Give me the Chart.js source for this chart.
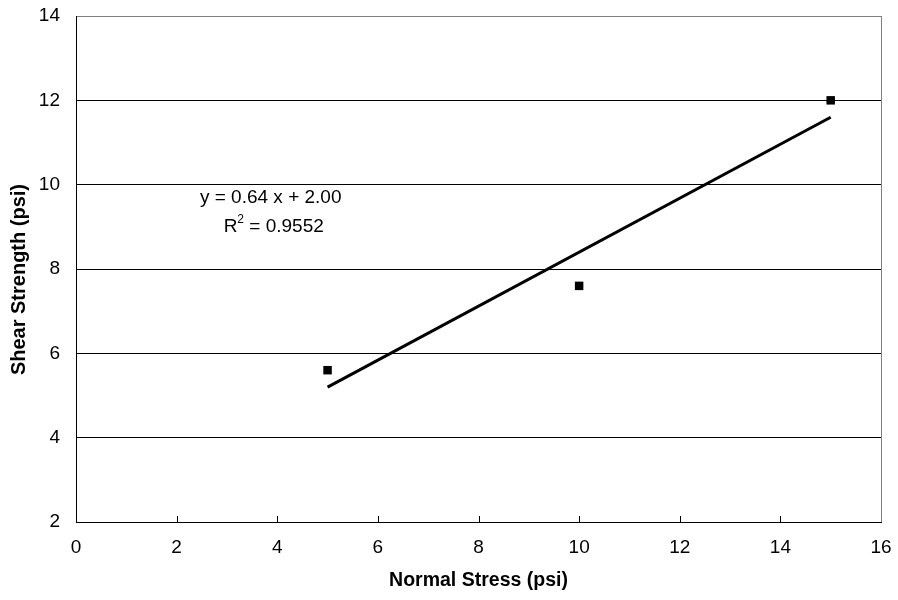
<html><head><meta charset="UTF-8"/>
<title>Shear Strength vs Normal Stress</title>
<script src="https://cdn.jsdelivr.net/npm/chart.js"></script>
<style>
* { margin: 0; padding: 0; }
body { background: #ffffff; width: 898px; height: 600px; overflow: hidden; }
#wrap { width: 898px; height: 600px; }
</style>
</head>
<body>
<div id="wrap"><canvas id="shearChart" width="898" height="600"></canvas></div>
<script>
// measured points
const normalStress = [5, 10, 15];
const shearStrength = [5.6, 7.6, 12];
// trendline y = 0.64 x + 2.00
const trendX = [5, 15];
const trendY = [5.2, 11.6];
const xTicks = [0, 2, 4, 6, 8, 10, 12, 14, 16];
const yTicks = [2, 4, 6, 8, 10, 12, 14];
const eqLine = 'y = 0.64 x + 2.00';
const r2Value = '0.9552';
const yTitle = 'Shear Strength (psi)';

const FONT = "'Liberation Sans', Arial, sans-serif";

// x tick marks drawn inward, y title, and the equation text
const extras = {
    id: 'extras',
    afterDraw(chart) {
        const c = chart.ctx;
        const xs = chart.scales.x, ys = chart.scales.y;
        c.save();
        c.strokeStyle = '#000';
        c.lineWidth = 1;
        xTicks.slice(1, -1).forEach(v => {
            const px = Math.round(xs.getPixelForValue(v)) + 0.5;
            c.beginPath();
            c.moveTo(px, ys.bottom);
            c.lineTo(px, ys.bottom - 6);
            c.stroke();
        });
        // y axis title (sits a bit below the middle in the original)
        c.save();
        c.translate(19, ys.getPixelForValue(7.75));
        c.rotate(-Math.PI / 2);
        c.fillStyle = '#000';
        c.font = 'bold 20px ' + FONT;
        c.textAlign = 'center';
        c.textBaseline = 'middle';
        c.fillText(yTitle, 0, 0);
        c.restore();
        // equation label
        c.fillStyle = '#000';
        c.font = '19px ' + FONT;
        c.textAlign = 'center';
        c.textBaseline = 'middle';
        c.fillText(eqLine, xs.getPixelForValue(3.87), ys.getPixelForValue(9.68));
        // R^2 with superscript
        const y2 = ys.getPixelForValue(9.0);
        const rest = ' = ' + r2Value;
        const wR = c.measureText('R').width;
        const wRest = c.measureText(rest).width;
        c.font = '12px ' + FONT;
        const wSup = c.measureText('2').width;
        let x0 = xs.getPixelForValue(3.93) - (wR + wSup + wRest) / 2;
        c.textAlign = 'left';
        c.font = '19px ' + FONT;
        c.fillText('R', x0, y2);
        c.font = '12px ' + FONT;
        c.fillText('2', x0 + wR, y2 - 7);
        c.font = '19px ' + FONT;
        c.fillText(rest, x0 + wR + wSup, y2);
        c.restore();
    }
};

new Chart(document.getElementById('shearChart'), {
    type: 'scatter',
    data: {
        datasets: [
            {
                label: 'Data',
                data: normalStress.map((x, i) => ({ x: x, y: shearStrength[i] })),
                pointStyle: 'rect',
                pointRadius: 6,
                backgroundColor: '#000',
                borderColor: '#000',
                borderWidth: 0
            },
            {
                label: 'Trend',
                type: 'line',
                data: trendX.map((x, i) => ({ x: x, y: trendY[i] })),
                borderColor: '#000',
                borderWidth: 3,
                pointRadius: 0,
                fill: false
            }
        ]
    },
    options: {
        responsive: false,
        animation: false,
        layout: { padding: { top: 16, right: 17, bottom: 0, left: 0 } },
        plugins: { legend: { display: false }, tooltip: { enabled: false } },
        scales: {
            x: {
                type: 'linear',
                min: 0, max: 16,
                afterBuildTicks: s => { s.ticks = xTicks.map(v => ({ value: v })); },
                afterFit: s => { s.height = 78; s.paddingLeft = 0; s.paddingRight = 0; },
                ticks: { color: '#000', font: { family: FONT, size: 19 }, padding: 14 },
                grid: {
                    drawTicks: false,
                    color: ctx => ctx.tick && ctx.tick.value === 16 ? '#808080' : 'rgba(0,0,0,0)'
                },
                border: { color: '#000', width: 1 },
                title: {
                    display: true, text: 'Normal Stress (psi)', color: '#000',
                    font: { family: FONT, size: 19.5, weight: 'bold' }, padding: { top: 0, bottom: 8 }
                }
            },
            y: {
                min: 2, max: 14,
                afterBuildTicks: s => { s.ticks = yTicks.map(v => ({ value: v })); },
                afterFit: s => { s.width = 76; s.paddingTop = 0; s.paddingBottom = 0; },
                ticks: { color: '#000', font: { family: FONT, size: 19 }, padding: 16 },
                grid: {
                    drawTicks: false,
                    color: ctx => ctx.tick && ctx.tick.value === 14 ? '#808080' : '#000'
                },
                border: { color: '#000', width: 1 },
                title: { display: false }
            }
        }
    },
    plugins: [extras]
});
</script>
</body></html>
